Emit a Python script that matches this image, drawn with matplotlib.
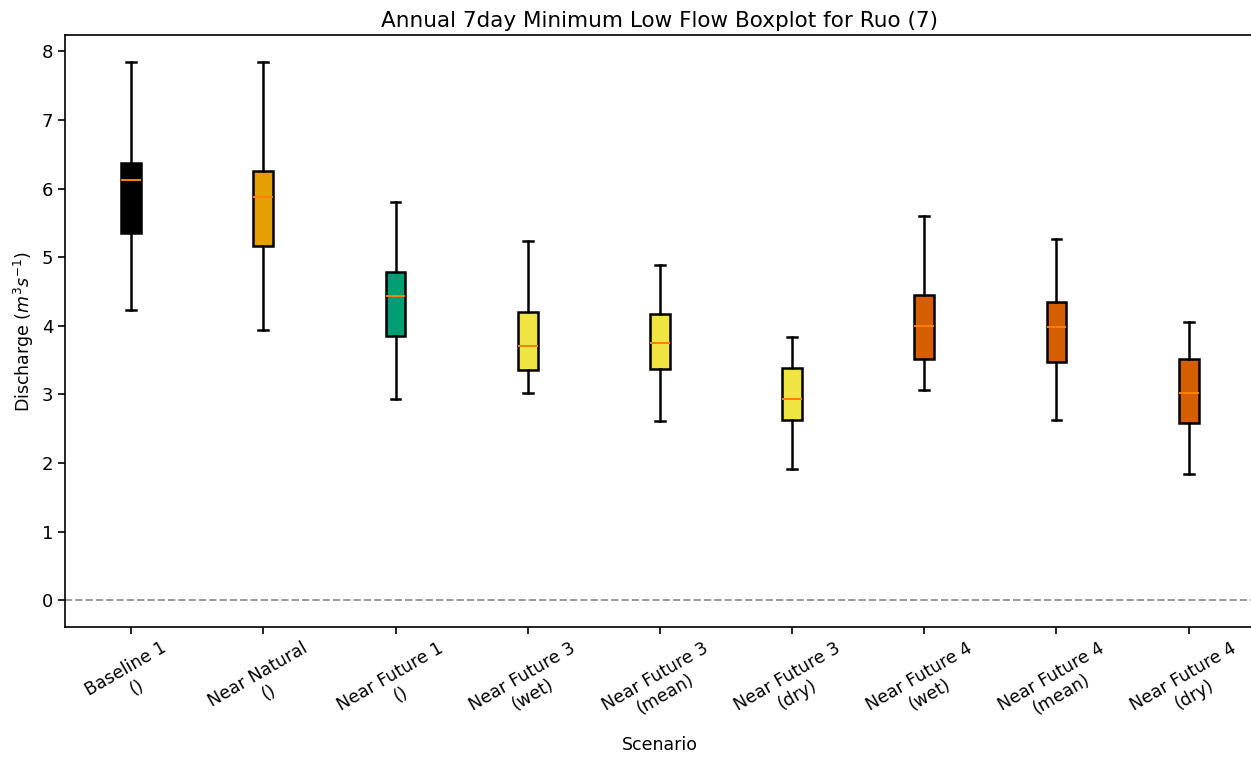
import matplotlib
matplotlib.use("Agg")
import matplotlib.pyplot as plt

scenarios = [
    "Baseline 1\n()", "Near Natural\n()", "Near Future 1\n()",
    "Near Future 3\n(wet)", "Near Future 3\n(mean)", "Near Future 3\n(dry)",
    "Near Future 4\n(wet)", "Near Future 4\n(mean)", "Near Future 4\n(dry)",
]
whislo = [4.23, 3.94, 2.93, 3.02, 2.61, 1.92, 3.06, 2.62, 1.84]
q1 = [5.35, 5.16, 3.85, 3.35, 3.37, 2.62, 3.51, 3.47, 2.58]
med = [6.12, 5.87, 4.43, 3.70, 3.75, 2.93, 3.99, 3.98, 3.02]
q3 = [6.37, 6.26, 4.78, 4.20, 4.17, 3.38, 4.45, 4.34, 3.51]
whishi = [7.84, 7.84, 5.80, 5.23, 4.89, 3.83, 5.60, 5.26, 4.05]
colors = ["#000000", "#E69F00", "#009E73", "#F0E442", "#F0E442",
          "#F0E442", "#D55E00", "#D55E00", "#D55E00"]

stats = [
    {"whislo": lo, "q1": a, "med": m, "q3": b, "whishi": hi, "fliers": []}
    for lo, a, m, b, hi in zip(whislo, q1, med, q3, whishi)
]

fig = plt.figure(figsize=(12.51, 7.58), dpi=100)
ax = fig.add_axes([0.052, 0.1728, 0.951, 0.7812])

bp = ax.bxp(stats, widths=0.15, patch_artist=True, showfliers=False,
            boxprops=dict(linewidth=1.8),
            whiskerprops=dict(linewidth=1.8),
            capprops=dict(linewidth=1.8),
            medianprops=dict(color="#ff7f0e", linewidth=1.4))
for patch, c in zip(bp["boxes"], colors):
    patch.set_facecolor(c)
    patch.set_edgecolor("black")

ax.axhline(0, color="grey", linestyle="--", alpha=0.8, linewidth=1.4)
ax.set_ylim(-0.39, 8.24)
ax.set_xlim(0.5, 9.5)
ax.set_xticks(range(1, len(scenarios) + 1))
ax.set_xticklabels(scenarios, rotation=30, fontsize=12.5)
ax.tick_params(axis="y", labelsize=13)
ax.tick_params(length=5, width=1.2)
for s in ax.spines.values():
    s.set_linewidth(1.2)
ax.set_title("Annual 7day Minimum Low Flow Boxplot for Ruo (7)", fontsize=15.5, pad=6)
ax.set_xlabel("Scenario", fontsize=12.5, labelpad=3)
ax.set_ylabel("Discharge ($m^3s^{-1}$)", fontsize=12.5)

fig.savefig("out.png", dpi=100)
